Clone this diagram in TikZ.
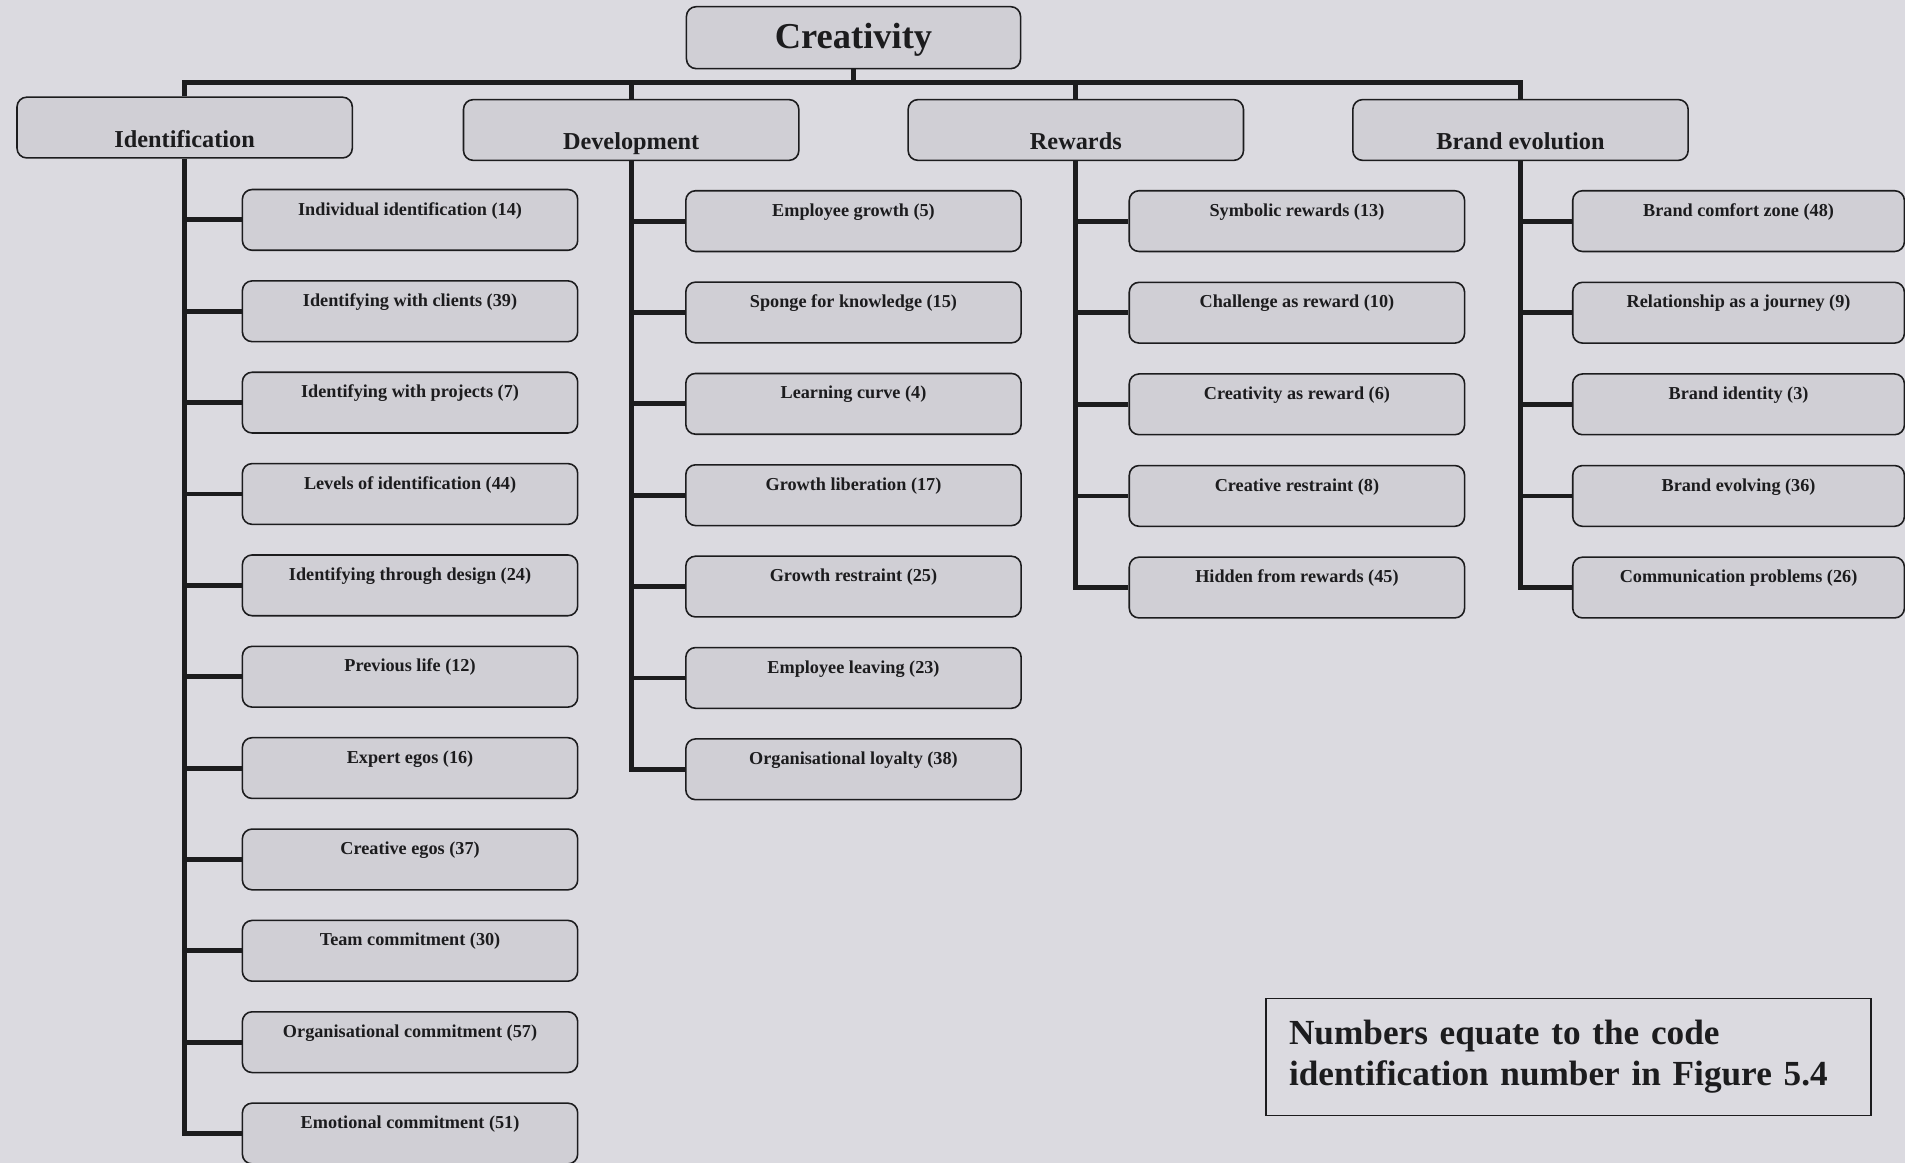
\documentclass[tikz,border=0pt]{standalone}
\usepackage{fontspec}
\setmainfont{Liberation Serif}
\definecolor{bg}{RGB}{219,218,224}
\definecolor{boxfill}{RGB}{208,207,213}
\definecolor{ink}{RGB}{28,28,30}
\begin{document}
\begin{tikzpicture}[x=1pt,y=-1pt,
  box/.style={draw=ink, fill=boxfill, rounded corners=8pt, line width=1.3pt,
    inner sep=0pt, text=ink},
  rootbox/.style={box, minimum width=275pt, minimum height=51pt,
    font=\fontsize{30}{34}\selectfont\bfseries, text height=22pt, text depth=4pt},
  headbox/.style={box, minimum width=276pt, minimum height=50pt,
    font=\fontsize{20}{24}\selectfont\bfseries, text height=32pt, text depth=0pt},
  subbox/.style={box, minimum width=276pt, minimum height=50pt,
    font=\fontsize{15}{18}\selectfont\bfseries, text height=10pt, text depth=18pt},
  notebox/.style={draw=ink, line width=1.2pt, inner xsep=19pt, inner ysep=0pt,
    text=ink, minimum height=96pt, text width=460pt, align=left,
    font=\fontsize{29}{34}\selectfont\bfseries},
  conn/.style={draw=ink, line width=4pt, line join=miter}]

\fill[bg] (0,0) rectangle (1568,957);
\useasboundingbox (0,0) rectangle (1568,957);

% root and first level
\node[rootbox] (cre) at (702.5,31) {Creativity};
\node[headbox] (idh) at (152,105) {Identification};
\node[headbox] (dvh) at (519.5,107) {Development};
\node[headbox] (rwh) at (885.5,107) {Rewards};
\node[headbox] (brh) at (1251.5,107) {Brand evolution};

% bus joining the first level to the root
\coordinate (bus) at (0,68);
\draw[conn] (idh.north) -- (idh.north |- bus) -- (brh.north |- bus) -- (brh.north);
\draw[conn] (cre.south) -- (cre.south |- bus);
\draw[conn] (dvh.north) -- (dvh.north |- bus);
\draw[conn] (rwh.north) -- (rwh.north |- bus);

% Identification branch
\foreach \t [count=\i] in {Individual identification (14), Identifying with clients (39),
  Identifying with projects (7), Levels of identification (44),
  Identifying through design (24), Previous life (12), Expert egos (16),
  Creative egos (37), Team commitment (30), Organisational commitment (57),
  Emotional commitment (51)}{
  \node[subbox] (idc\i) at (337.5,{181+75.2*(\i-1)}) {\t};
}
\draw[conn] (idh.south) -- (idh.south |- idc11.west) -- (idc11.west);
\foreach \i in {1,...,10}{
  \draw[conn] (idh.south |- idc\i.west) -- (idc\i.west);
}

% Development branch
\foreach \t [count=\i] in {Employee growth (5), Sponge for knowledge (15),
  Learning curve (4), Growth liberation (17), Growth restraint (25),
  Employee leaving (23), Organisational loyalty (38)}{
  \node[subbox] (dvc\i) at (702.5,{182+75.2*(\i-1)}) {\t};
}
\draw[conn] (dvh.south) -- (dvh.south |- dvc7.west) -- (dvc7.west);
\foreach \i in {1,...,6}{
  \draw[conn] (dvh.south |- dvc\i.west) -- (dvc\i.west);
}

% Rewards branch
\foreach \t [count=\i] in {Symbolic rewards (13), Challenge as reward (10),
  Creativity as reward (6), Creative restraint (8), Hidden from rewards (45)}{
  \node[subbox] (rwc\i) at (1067.5,{182+75.4*(\i-1)}) {\t};
}
\draw[conn] (rwh.south) -- (rwh.south |- rwc5.west) -- (rwc5.west);
\foreach \i in {1,...,4}{
  \draw[conn] (rwh.south |- rwc\i.west) -- (rwc\i.west);
}

% Brand evolution branch
\foreach \t [count=\i] in {Brand comfort zone (48), Relationship as a journey (9),
  Brand identity (3), Brand evolving (36), Communication problems (26)}{
  \node[subbox, minimum width=273pt] (brc\i) at (1431,{182+75.4*(\i-1)}) {\t};
}
\draw[conn] (brh.south) -- (brh.south |- brc5.west) -- (brc5.west);
\foreach \i in {1,...,4}{
  \draw[conn] (brh.south |- brc\i.west) -- (brc\i.west);
}

% explanatory note
\node[notebox] (note) at (1291,870)
  {Numbers equate to the code\\identification number in Figure 5.4};
\end{tikzpicture}
\end{document}
